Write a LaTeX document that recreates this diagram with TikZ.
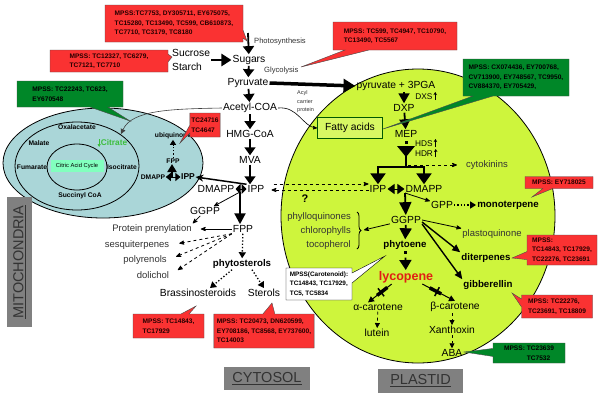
\documentclass[tikz,border=0pt]{standalone}
\usepackage{fontspec}
\setmainfont{Liberation Sans}
\usetikzlibrary{arrows,arrows.meta,shapes.callouts,decorations.pathreplacing}

\definecolor{mitoblue}{RGB}{170,214,216}
\definecolor{plastgreen}{RGB}{206,245,60}
\definecolor{mpssred}{RGB}{250,50,50}
\definecolor{mpssgreen}{RGB}{0,135,40}
\definecolor{cycgreen}{RGB}{130,255,190}
\definecolor{citgreen}{RGB}{60,190,60}
\definecolor{boxgray}{RGB}{128,128,128}
\definecolor{lycored}{RGB}{225,30,20}

\begin{document}
\begin{tikzpicture}[x=1pt,y=-1pt,>=stealth',
  main node/.style={inner sep=1pt,font=\fontsize{10.3}{12}\selectfont},
  bold node/.style={inner sep=1pt,font=\fontsize{9.7}{11}\selectfont\bfseries},
  list node/.style={inner sep=1pt,text=black!80,font=\fontsize{9.5}{11}\selectfont},
  small node/.style={inner sep=1pt,text=black!80,font=\fontsize{7.6}{9}\selectfont},
  mito node/.style={inner sep=0.5pt,font=\fontsize{6.7}{8}\selectfont\bfseries},
  rec node/.style={rectangle,draw=green!35!black,fill=plastgreen!80!white,thick,
    minimum width=65pt,minimum height=21pt,font=\fontsize{10.3}{12}\selectfont},
  red note/.style={rectangle callout,fill=mpssred,draw=black!70,align=left,
    inner xsep=3pt,inner ysep=2pt,callout pointer width=8pt,text=black!85!red,
    font=\fontsize{6.6}{9.5}\selectfont\bfseries},
  green note/.style={red note,fill=mpssgreen,text=black},
  cell label/.style={rectangle,fill=boxgray,text=black!80,inner sep=2pt,
    font=\fontsize{14.5}{16}\selectfont},
  big arrow/.style={-{Triangle[width=11pt,length=8pt]},line width=1.8pt},
  fat arrow/.style={-{Triangle[width=12pt,length=10pt]},line width=2.8pt},
  dot arrow/.style={-{Triangle[width=7pt,length=6pt]},line width=1.3pt,dotted},
  iso arrow/.style={{Triangle[width=10pt,length=5pt]}-{Triangle[width=10pt,length=5pt]},line width=1pt},
  block bar/.style={fill=black,inner sep=0pt,minimum width=13pt,minimum height=3.5pt,sloped},
  cross bar/.style={fill=black,inner sep=0pt,minimum width=1.5pt,minimum height=10pt,sloped}]

  \fill[white] (0,0) rectangle (600,402);
  \useasboundingbox (0,0) rectangle (600,402);

  % compartments
  \draw[fill=plastgreen,line width=0.8pt] (418,216) ellipse [x radius=137pt,y radius=147pt];
  \draw[fill=mitoblue,line width=0.8pt] (103,163) ellipse [x radius=100pt,y radius=55pt];
  \draw[line width=0.8pt] (77,166) ellipse [x radius=62pt,y radius=44pt];
  \draw[line width=0.8pt] (77,167) ellipse [x radius=30pt,y radius=23pt];

  % mitochondria
  \node[rectangle,fill=cycgreen,minimum width=53pt,minimum height=12pt,inner sep=0pt,
    font=\fontsize{5.8}{7}\selectfont] (tca) at (77,166) {Citric Acid Cycle};
  \node[mito node] (oxa) at (77,127) {Oxalacetate};
  \node[mito node] (mal) at (39,143) {Malate};
  \node[mito node,text=citgreen,font=\fontsize{8.3}{9}\selectfont\bfseries] (cit) at (114,143) {Citrate};
  \node[mito node] (fum) at (32,167) {Fumarate};
  \node[mito node] (isoc) at (122,167) {Isocitrate};
  \node[mito node] (suc) at (80,196) {Succinyl CoA};
  \node[mito node] (ubq) at (173,136) {ubiquinone};
  \node[mito node] (mfpp) at (173,161) {FPP};
  \node[mito node] (mdmapp) at (153,177) {DMAPP};
  \node[mito node,font=\fontsize{8.5}{9}\selectfont\bfseries] (mipp) at (188,177) {IPP};
  \coordinate (mup) at (172,177);
  \coordinate (cyc) at (121,134);

  \draw[citgreen,-{Triangle[width=3pt,length=3pt]},line width=0.8pt] ([shift={(-1,-4)}]cit.west) -- ++(0,8);
  \draw[iso arrow,{Triangle[width=8pt,length=5pt]}-{Triangle[width=8pt,length=5pt]}] (mdmapp) -- (mipp);
  \draw[big arrow,-{Triangle[width=9pt,length=8pt]}] (mup) -- (mup |- mfpp.south);
  \draw[dot arrow,-{Triangle[width=6pt,length=5pt]},line width=1pt] (mfpp) -- (ubq);

  % cytosol
  \node[small node,anchor=west] (phs) at (253,42) {Photosynthesis};
  \coordinate (ps) at (248,33);
  \node[main node] (sug) at (249,60) {Sugars};
  \node[main node,align=left,anchor=west,font=\fontsize{10.3}{14}\selectfont] (sucr) at (171,60) {Sucrose\\Starch};
  \node[small node,anchor=west] (gly) at (263,71) {Glycolysis};
  \node[main node] (pyr) at (248,83) {Pyruvate};
  \node[main node] (acet) at (250,108) {Acetyl-COA};
  \node[main node] (hmg) at (250,134) {HMG-CoA};
  \node[main node] (mva) at (250,160) {MVA};
  \node[main node] (cipp) at (256,189) {IPP};
  \node[main node] (cdmapp) at (216,189) {DMAPP};
  \node[main node] (cggpp) at (205,211) {GGPP};
  \node[main node] (cfpp) at (243,229) {FPP};
  \node[list node] (prot) at (152,229) {Protein prenylation};
  \node[list node] (sesq) at (137,245) {sesquiterpenes};
  \node[list node] (poly) at (145,260) {polyrenols};
  \node[list node] (doli) at (153,275) {dolichol};
  \node[bold node] (phst) at (242,264) {phytosterols};
  \node[main node] (bras) at (198,293) {Brassinosteroids};
  \node[main node] (ster) at (264,293) {Sterols};
  \coordinate (cdown) at (240,192);

  \draw[big arrow] (ps) -- (sug);
  \draw[fat arrow,line width=2.5pt] (sucr) -- (sug);
  \draw[big arrow] (sug) -- (pyr);
  \draw[big arrow] (pyr) -- (acet);
  \draw[big arrow] (acet) -- (hmg);
  \draw[big arrow] (hmg) -- (mva);
  \draw[big arrow] (mva) -- (mva |- cipp.north);
  \draw[iso arrow] (cdmapp) -- (cipp);
  \draw[fat arrow,line width=2.2pt,-{Triangle[width=11pt,length=11pt]}] (cdown) -- (cdown |- cfpp.north);
  \draw[-{Stealth[length=8pt,width=7pt]},line width=1.5pt] (cipp.north west) -- (mipp.east);
  \draw[line width=0.6pt,black!75,-{Triangle[width=5pt,length=5pt]}] (acet.west) .. controls (170,109) and (132,110) .. (cyc);

  \path[->,line width=0.8pt]
    (cdown) edge (cggpp)
    (cggpp) edge (prot.north east)
    (cfpp) edge[shorten >=8pt] (prot);
  \path[->,dashed,line width=0.8pt,shorten >=9pt]
    (cfpp.south west) edge (sesq.east)
    (cfpp.south west) edge (poly.east)
    (cfpp.south west) edge (doli.east);
  \path[dot arrow]
    (cfpp) edge (phst)
    ([xshift=-10pt]phst.south) edge ([xshift=12pt]bras.north)
    ([xshift=10pt]phst.south) edge (ster.north);

  % plastid
  \node[main node] (ppyr) at (396,86) {pyruvate + 3PGA};
  \node[main node] (dxp) at (404,108) {DXP};
  \node[main node] (mep) at (406,134) {MEP};
  \node[small node,text=black,font=\fontsize{8.3}{9}\selectfont] (dxs) at (424,97) {DXS};
  \node[small node,text=black,font=\fontsize{8.3}{9}\selectfont] (hds) at (424,144) {HDS};
  \node[small node,text=black,font=\fontsize{8.3}{9}\selectfont] (hdr) at (424,154) {HDR};
  \node[rec node] (fa) at (350,128) {Fatty acids};
  \node[small node,align=left,anchor=west,font=\fontsize{5.5}{8.5}\selectfont] (acp) at (296,102) {Acyl\\carrier\\protein};
  \node[list node] (cyto) at (487,165) {cytokinins};
  \node[main node] (pipp) at (378,189) {IPP};
  \node[main node] (pdmapp) at (424,189) {DMAPP};
  \node[main node] (pgpp) at (442,205) {GPP};
  \node[bold node] (mono) at (508,205) {monoterpene};
  \node[main node] (pggpp) at (406,220) {GGPP};
  \node[list node,align=right,anchor=east,font=\fontsize{9.5}{14}\selectfont] (plist) at (352,231) {phylloquinones\\chlorophylls\\tocopherol};
  \node[list node] (pq) at (492,234) {plastoquinone};
  \node[bold node] (dit) at (486,258) {diterpenes};
  \node[bold node] (gib) at (488,285) {gibberellin};
  \node[bold node] (phyt) at (405,245) {phytoene};
  \node[bold node,text=lycored,font=\fontsize{12.5}{14}\selectfont\bfseries] (lyc) at (406,277) {lycopene};
  \node[main node] (acar) at (378,307) {α-carotene};
  \node[main node] (bcar) at (455,307) {β-carotene};
  \node[main node] (lut) at (377,333) {lutein};
  \node[main node] (xan) at (452,330) {Xanthoxin};
  \node[main node] (aba) at (452,353) {ABA};
  \node[font=\fontsize{11}{12}\selectfont\bfseries] (qm) at (305,199) {?};
  \coordinate (split) at (406,167);
  \coordinate (ck) at (408,165);
  \coordinate (pdown) at (405,193);
  \coordinate (brtip) at (364,230);

  \draw[fat arrow,line width=3.5pt,-{Triangle[width=13pt,length=12pt]}] (pyr.east) -- (ppyr.west);
  \draw[line width=0.6pt,->] (acet.east) .. controls (298,106) and (303,127) .. (fa.west);
  \draw[big arrow,-{Triangle[width=11pt,length=10pt]}] (dxp |- ppyr.south) -- (dxp);
  \draw[big arrow,-{Triangle[width=11pt,length=10pt]}] (dxp) -- (mep);
  \draw[-{Stealth[length=3pt,width=3.5pt]},line width=0.6pt] ([shift={(1.5,3)}]dxs.east) -- ++(0,-8);
  \draw[-{Stealth[length=3pt,width=3.5pt]},line width=0.6pt] ([shift={(1.5,3)}]hds.east) -- ++(0,-8);
  \draw[-{Stealth[length=3pt,width=3.5pt]},line width=0.6pt] ([shift={(1.5,3)}]hdr.east) -- ++(0,-8);

  \fill (404.5,141) rectangle ++(3,3);
  \fill (397,146) -- (415,146) -- (406,157) -- cycle;
  \draw[line width=2.5pt] (406,155) -- (split);
  \draw[line width=2.5pt,-{Triangle[width=15pt,length=11pt]}] (split) -| (pipp);
  \draw[line width=2.5pt,-{Triangle[width=15pt,length=11pt]}] (split) -| (pdmapp);
  \draw[->,dashed,line width=0.8pt,shorten >=8pt] (ck) -- (cyto);
  \draw[iso arrow,{Triangle[width=10pt,length=7pt]}-{Triangle[width=10pt,length=7pt]}] (pipp) -- (pdmapp);

  \draw[->,dashed,line width=0.8pt,shorten <=8pt] ([yshift=5pt]cipp.east) -- ([yshift=5pt]pipp.west);
  \draw[->,dashed,line width=0.8pt,shorten >=6pt] ([yshift=-1pt]pipp.west) -- ([yshift=-1pt]cipp.east);

  \draw[big arrow,-{Triangle[width=12pt,length=13pt]}] (pdown) -- (pggpp);
  \draw[decorate,decoration={brace,amplitude=4pt},line width=0.8pt] (357,212) -- (357,249);
  \path[->,line width=0.8pt]
    (pdown) edge (pgpp)
    (pggpp) edge (brtip)
    (pggpp.east) edge (pq.north west);
  \draw[dot arrow] (pgpp) -- (mono);
  \path[line width=1.4pt,-{Triangle[width=7pt,length=8pt]}]
    ([yshift=-2pt]pggpp.east) edge (dit.north west)
    ([yshift=-4pt]pggpp.east) edge (gib.north west);
  \draw[big arrow,-{Triangle[width=12pt,length=11pt]}] (pggpp) -- (phyt);
  \fill (403.5,251) rectangle ++(3,3);
  \draw[big arrow,-{Triangle[width=12pt,length=10pt]},shorten <=7pt] (phyt) -- (lyc);

  \draw[line width=1pt,-{Triangle[width=6pt,length=6pt]}] ([xshift=14pt]lyc.south west) -- ([xshift=-10pt]acar.north)
    node[block bar,pos=0.4] {} node[cross bar,pos=0.45] {};
  \draw[line width=1pt,-{Triangle[width=6pt,length=6pt]}] ([xshift=-12pt]lyc.south east) -- (bcar.north)
    node[block bar,pos=0.4] {} node[cross bar,pos=0.45] {};
  \path[dashed,line width=0.8pt,-{Triangle[width=5pt,length=5pt]}]
    (acar) edge (lut)
    (xan |- bcar.south) edge (xan)
    (xan) edge (aba);

  % compartment labels
  \node[cell label,minimum width=86pt,minimum height=23pt] (cyt) at (267,378.5) {\underline{CYTOSOL}};
  \node[cell label,minimum width=85pt,minimum height=24pt] (pla) at (420.5,381) {\underline{PLASTID}};
  \node[cell label,rotate=90,minimum width=130pt,minimum height=25pt] (mit) at (19.5,262) {\underline{MITOCHONDRIA}};

  % MPSS notes
  \node[red note,minimum width=138pt,minimum height=37pt,callout absolute pointer={(247,41)}] (n1) at (174,23.5)
    {MPSS:TC7753, DY305711, EY675075,\\TC15280, TC13490, TC599, CB610873,\\TC7710, TC3179, TC8180};
  \node[red note,minimum width=118pt,minimum height=22pt,callout absolute pointer={(172,57)}] (n2) at (109,61)
    {MPSS: TC12327, TC6279,\\TC7121, TC7710};
  \node[green note,minimum width=106pt,minimum height=26pt,callout pointer width=18pt,callout absolute pointer={(130,121)}] (n3) at (70,94)
    {MPSS: TC22243, TC623,\\EY670548};
  \node[red note,minimum width=124pt,minimum height=28pt,callout pointer width=24pt,callout absolute pointer={(301,67)}] (n4) at (395,36)
    {MPSS: TC599, TC4947, TC10790,\\TC13490, TC5567};
  \node[green note,minimum width=106pt,minimum height=37pt,callout pointer width=20pt,callout absolute pointer={(383,129)}] (n5) at (516,77.5)
    {MPSS: CX074436, EY700768,\\CV713900, EY748567, TC9950,\\CV884370, EY705429,};
  \node[red note,inner xsep=1.5pt,minimum width=30pt,minimum height=24pt,callout absolute pointer={(180,143)}] (n6) at (205,125)
    {TC24716\\TC4647};
  \node[red note,minimum width=68pt,minimum height=12pt,callout pointer width=10pt,callout absolute pointer={(532,197)}] (n7) at (559,182.5)
    {MPSS: EY718025};
  \node[red note,minimum width=70pt,minimum height=30pt,callout absolute pointer={(512,258)}] (n8) at (562,250)
    {MPSS:\\TC14843, TC17929,\\TC22276, TC23691};
  \node[red note,minimum width=71pt,minimum height=23pt,callout absolute pointer={(512,293)}] (n9) at (557,306.5)
    {MPSS: TC22276,\\TC23691, TC18809};
  \node[green note,minimum width=72pt,minimum height=20pt,callout absolute pointer={(464,352)}] (n10) at (529,353)
    {MPSS: TC23639\\\phantom{MPSS: }TC7532};
  \node[red note,minimum width=71pt,minimum height=24pt,callout absolute pointer={(196,306)}] (n11) at (168.5,326)
    {MPSS: TC14843,\\TC17929};
  \node[red note,minimum width=98pt,minimum height=34pt,callout pointer width=12pt,callout absolute pointer={(272,303)}] (n12) at (264,331)
    {MPSS: TC20473, DN620599,\\EY708186, TC8568, EY737600,\\TC14003};
  \node[red note,fill=white,draw=black,text=black,font=\fontsize{6.4}{9.5}\selectfont\bfseries,
    minimum width=66pt,minimum height=32pt,callout pointer width=10pt,callout absolute pointer={(385,256)}] (n13) at (319,284)
    {MPSS(Carotenoid):\\TC14843, TC17929,\\TC5, TC5834};

\end{tikzpicture}
\end{document}
